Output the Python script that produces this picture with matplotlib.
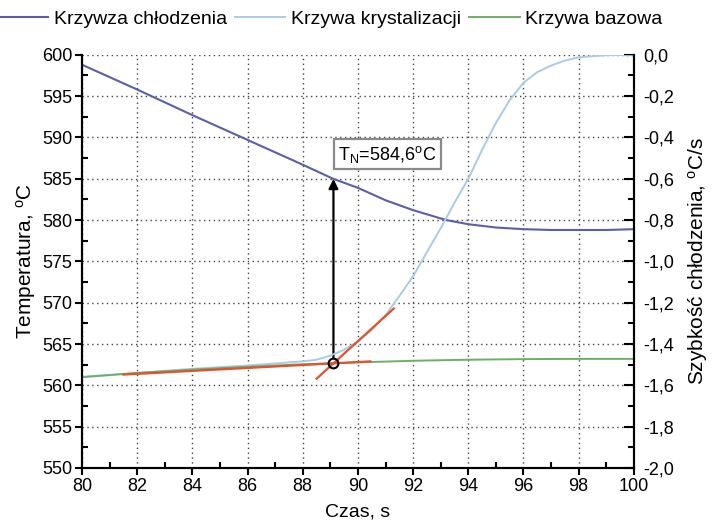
import numpy as np
import matplotlib
matplotlib.use("Agg")
import matplotlib.pyplot as plt
from matplotlib.ticker import MultipleLocator, FuncFormatter

plt.rcParams['font.family'] = ['Liberation Sans', 'DejaVu Sans']
plt.rcParams['mathtext.fontset'] = 'custom'
plt.rcParams['mathtext.rm'] = 'Liberation Sans'
plt.rcParams['mathtext.it'] = 'Liberation Sans'

# cooling curve, temperature in C
t_cool = [80, 82, 84, 86, 88, 89.1, 90, 91, 92, 93.2, 94, 95, 96, 97, 98, 99, 100]
temp_cool = [598.8, 595.8, 592.7, 589.7, 586.7, 585.0, 583.9, 582.4, 581.2, 580.0,
             579.5, 579.1, 578.9, 578.8, 578.8, 578.8, 578.9]

# crystallization curve, cooling rate in C/s
t_cryst = [80, 82, 84, 86, 88, 88.5, 89, 89.5, 90, 90.5, 91, 91.5, 92, 92.5, 93,
           93.5, 94, 94.5, 95, 95.5, 96, 96.5, 97, 97.5, 98, 99, 100]
rate_cryst = [-1.56, -1.54, -1.52, -1.504, -1.484, -1.476, -1.456, -1.428, -1.388,
              -1.332, -1.26, -1.168, -1.072, -0.955, -0.84, -0.716, -0.60, -0.46,
              -0.33, -0.22, -0.135, -0.084, -0.052, -0.028, -0.012, -0.002, 0.0]

# base curve, cooling rate in C/s
t_base = [80, 82, 84, 86, 88, 90, 92, 94, 96, 98, 100]
rate_base = [-1.56, -1.54, -1.524, -1.51, -1.498, -1.489, -1.481, -1.476, -1.473,
             -1.472, -1.472]

# tangent lines (end points)
tan_base_t = [81.5, 90.45]
tan_base_r = [-1.548, -1.484]
tan_cryst_t = [88.5, 91.3]
tan_cryst_r = [-1.568, -1.228]

label_tn = r'T$_\mathregular{N}$=584,6$^\mathregular{o}$C'

fig = plt.figure(figsize=(7.13, 5.27), dpi=100)
ax = fig.add_axes([0.115, 0.112, 0.774, 0.784])
ax2 = ax.twinx()

c_cool = '#5c5fa8'
c_cryst = '#a9cbea'
c_base = '#6fae68'
c_red = '#e0532c'

l1, = ax.plot(t_cool, temp_cool, color=c_cool, lw=1.5, label='Krzywza chłodzenia')
l2, = ax2.plot(t_cryst, rate_cryst, color=c_cryst, lw=1.4, label='Krzywa krystalizacji')
l3, = ax2.plot(t_base, rate_base, color=c_base, lw=1.4, label='Krzywa bazowa')
ax2.plot(tan_base_t, tan_base_r, color=c_red, lw=1.6)
ax2.plot(tan_cryst_t, tan_cryst_r, color=c_red, lw=1.6)

# intersection of the two tangents
k1 = (tan_base_r[1] - tan_base_r[0]) / (tan_base_t[1] - tan_base_t[0])
k2 = (tan_cryst_r[1] - tan_cryst_r[0]) / (tan_cryst_t[1] - tan_cryst_t[0])
xi = (tan_cryst_r[0] - tan_base_r[0] + k1 * tan_base_t[0] - k2 * tan_cryst_t[0]) / (k1 - k2)
ri = tan_base_r[0] + k1 * (xi - tan_base_t[0])
ax2.plot([xi], [ri], 'o', ms=7, mfc='none', mec='black', mew=1.5, zorder=5)

ti = np.interp(xi, t_cool, temp_cool)
ax.annotate('', xy=(xi, ti), xycoords=ax.transData,
            xytext=(xi, ri), textcoords=ax2.transData,
            arrowprops=dict(arrowstyle='-|>', color='black', lw=1.6,
                            mutation_scale=14, shrinkA=4, shrinkB=0))

ax.text(91.07, 587.95, label_tn, ha='center', va='center', fontsize=13,
        bbox=dict(boxstyle='square,pad=0.25', fc='white', ec='#8a8a8a', lw=1.6),
        zorder=6)

ax.set_xlim(80, 100)
ax.set_ylim(550, 600)
ax2.set_ylim(-2.0, 0.0)

ax.xaxis.set_major_locator(MultipleLocator(2))
ax.xaxis.set_minor_locator(MultipleLocator(1))
ax.yaxis.set_major_locator(MultipleLocator(5))
ax.yaxis.set_minor_locator(MultipleLocator(2.5))
ax2.yaxis.set_major_locator(MultipleLocator(0.2))
ax2.yaxis.set_minor_locator(MultipleLocator(0.1))
ax2.yaxis.set_major_formatter(FuncFormatter(lambda v, p: ('%.1f' % v).replace('.', ',')))

ax.grid(True, which='major', color='#444444', ls=(0, (1, 2.5)), lw=1.0)

for a in (ax, ax2):
    a.spines['top'].set_visible(False)
    for s in ('left', 'right', 'bottom'):
        a.spines[s].set_linewidth(1.5)

ax.tick_params(axis='both', which='major', direction='out', length=5, width=1.5,
               labelsize=13, pad=2)
ax.tick_params(axis='both', which='minor', direction='in', length=4, width=1.5)
ax2.tick_params(axis='y', which='major', direction='in', length=7, width=1.5,
                labelsize=13, pad=7)
ax2.tick_params(axis='y', which='minor', direction='in', length=4, width=1.5)

ax.set_xlabel('Czas, s', fontsize=14, labelpad=6)
ax.set_ylabel(r'Temperatura, $^\mathregular{o}$C', fontsize=15, labelpad=3)
ax2.set_ylabel(r'Szybkość chłodzenia, $^\mathregular{o}$C/s', fontsize=15, labelpad=8)

fig.legend(handles=[l1, l2, l3], loc='center', bbox_to_anchor=(0.463, 0.964),
           ncol=3, frameon=False, fontsize=14, handlelength=2.6,
           handletextpad=0.3, columnspacing=0.4, borderaxespad=0)

fig.savefig('out.png', dpi=100)
